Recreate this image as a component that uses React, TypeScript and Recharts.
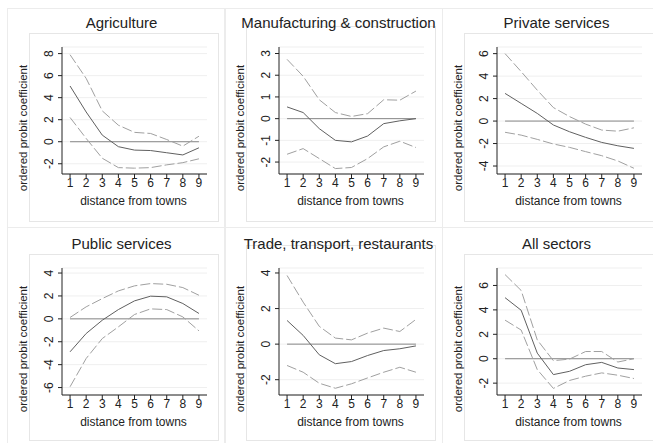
import React from 'react'
import { LineChart, Line, XAxis, YAxis, CartesianGrid, ReferenceLine } from 'recharts'

const distance = [1, 2, 3, 4, 5, 6, 7, 8, 9]

const titles = [
  'Agriculture',
  'Manufacturing & construction',
  'Private services',
  'Public services',
  'Trade, transport, restaurants',
  'All sectors',
]

// point estimate, lower and upper bound per sector
const agriEst = [5.06, 2.7, 0.6, -0.45, -0.76, -0.8, -1.0, -1.2, -0.55]
const agriLo = [2.2, 0.3, -1.5, -2.35, -2.4, -2.35, -2.1, -1.9, -1.55]
const agriHi = [7.9, 5.75, 2.8, 1.5, 0.85, 0.75, 0.2, -0.4, 0.5]

const manuEst = [0.54, 0.28, -0.46, -1.0, -1.07, -0.8, -0.23, -0.1, 0.0]
const manuLo = [-1.64, -1.38, -1.84, -2.3, -2.25, -1.84, -1.3, -1.04, -1.33]
const manuHi = [2.73, 1.95, 0.87, 0.28, 0.1, 0.23, 0.87, 0.85, 1.27]

const privEst = [2.46, 1.57, 0.68, -0.35, -0.95, -1.45, -1.9, -2.2, -2.43]
const privLo = [-1.0, -1.25, -1.63, -2.04, -2.34, -2.72, -3.08, -3.55, -4.2]
const privHi = [6.0, 4.4, 2.75, 1.2, 0.4, -0.27, -0.8, -0.9, -0.6]

const publEst = [-2.88, -1.28, -0.12, 0.81, 1.57, 1.98, 1.92, 1.34, 0.47]
const publLo = [-5.93, -3.46, -1.72, -0.7, 0.38, 0.87, 0.81, 0.17, -1.05]
const publHi = [0.12, 1.05, 1.77, 2.44, 2.88, 3.08, 3.02, 2.73, 2.06]

const tradeEst = [1.33, 0.49, -0.6, -1.1, -0.98, -0.64, -0.36, -0.26, -0.1]
const tradeLo = [-1.2, -1.58, -2.2, -2.48, -2.23, -1.9, -1.58, -1.3, -1.58]
const tradeHi = [3.86, 2.36, 1.0, 0.34, 0.24, 0.62, 0.9, 0.71, 1.39]

const allEst = [5.0, 3.97, 0.46, -1.3, -1.03, -0.49, -0.3, -0.76, -0.89]
const allLo = [3.16, 2.35, -0.89, -2.43, -1.78, -1.43, -1.16, -1.35, -1.62]
const allHi = [6.89, 5.59, 1.54, -0.16, -0.03, 0.59, 0.59, -0.27, 0.0]

const yTicks = [
  [-2, 0, 2, 4, 6, 8],
  [-2, -1, 0, 1, 2, 3],
  [-4, -2, 0, 2, 4, 6],
  [-6, -4, -2, 0, 2, 4],
  [-2, 0, 2, 4],
  [-2, 0, 2, 4, 6],
]

const yDomains = [
  [-2.93, 8.6],
  [-2.55, 3.3],
  [-4.71, 6.59],
  [-6.65, 4.44],
  [-2.86, 4.28],
  [-2.97, 7.43],
]

const series = [
  [agriEst, agriLo, agriHi],
  [manuEst, manuLo, manuHi],
  [privEst, privLo, privHi],
  [publEst, publLo, publHi],
  [tradeEst, tradeLo, tradeHi],
  [allEst, allLo, allHi],
]

const FONT = '"Liberation Sans", Arial, sans-serif'
const cols = [7, 224, 442]
const rows = [8, 227]
const W = 218
const H = 219

const RotTick = (props: any) => {
  const { x, y, payload } = props
  return (
    <text transform={`translate(${x},${y}) rotate(-90)`} textAnchor="middle" fontSize={12} fill="#222" fontFamily={FONT}>
      {payload.value}
    </text>
  )
}

function Panel({ idx }: { idx: number }) {
  const row = Math.floor(idx / 3)
  const col = idx % 3
  const left = cols[col]
  const top = rows[row]
  const [est, lo, hi] = series[idx]
  const data = distance.map((d, i) => ({ d, est: est[i], lo: lo[i], hi: hi[i] }))
  const shift = row === 0 ? 0 : 2
  const longTitle = idx === 1 || idx === 4
  const boxTop = longTitle ? 18 : 25 + shift
  return (
    <div style={{ position: 'absolute', left, top, width: W, height: H }}>
      <div style={{ position: 'absolute', left: 0, top: 0, width: W - 1, height: H - 1, border: '1px solid #ececec' }} />
      <div style={{ position: 'absolute', left: 22, top: boxTop, width: 188, height: 212 - boxTop, border: '1px solid #e6e6e6', background: '#fff' }} />
      <LineChart
        width={W}
        height={H}
        data={data}
        margin={{ top: 39 + shift, right: 18, bottom: 0, left: 0 }}
        style={{ position: 'absolute', left: 0, top: 0 }}
      >
        <CartesianGrid horizontal vertical={false} stroke="#efefef" />
        <XAxis
          dataKey="d"
          type="number"
          domain={[0.5, 9.5]}
          ticks={distance}
          interval={0}
          height={53 - shift}
          tickSize={4}
          tickMargin={0}
          stroke="#222"
          tick={{ fontSize: 12, fill: '#222', fontFamily: FONT }}
        />
        <YAxis
          type="number"
          domain={yDomains[idx]}
          ticks={yTicks[idx]}
          interval={0}
          width={55}
          tickSize={4}
          tickMargin={5}
          stroke="#222"
          tick={<RotTick />}
          allowDataOverflow
        />
        <ReferenceLine segment={[{ x: 1, y: 0 }, { x: 9, y: 0 }]} stroke="#888" strokeWidth={1} ifOverflow="visible" />
        <Line type="linear" dataKey="hi" stroke="#a0a0a0" strokeWidth={1} strokeDasharray="10 3" dot={false} isAnimationActive={false} />
        <Line type="linear" dataKey="lo" stroke="#a0a0a0" strokeWidth={1} strokeDasharray="10 3" dot={false} isAnimationActive={false} />
        <Line type="linear" dataKey="est" stroke="#606060" strokeWidth={1} dot={false} isAnimationActive={false} />
      </LineChart>
      <svg width={W} height={H} style={{ position: 'absolute', left: 0, top: 0, overflow: 'visible', pointerEvents: 'none' }}>
        <text x={114.5} y={20 + shift} textAnchor="middle" fontSize={15} fill="#222" fontFamily={FONT}>
          {titles[idx]}
        </text>
        <text x={126.5} y={197 + shift} textAnchor="middle" fontSize={12} fill="#222" fontFamily={FONT}>
          distance from towns
        </text>
        <text transform={`translate(20,${120 + shift}) rotate(-90)`} textAnchor="middle" fontSize={11.5} fill="#222" fontFamily={FONT}>
          ordered probit coefficient
        </text>
      </svg>
    </div>
  )
}

export default function App() {
  return (
    <div style={{ position: 'absolute', left: 0, top: 0, width: 653, height: 443, background: '#fff', overflow: 'hidden' }}>
      {titles.map((t, i) => (
        <Panel key={t} idx={i} />
      ))}
    </div>
  )
}
